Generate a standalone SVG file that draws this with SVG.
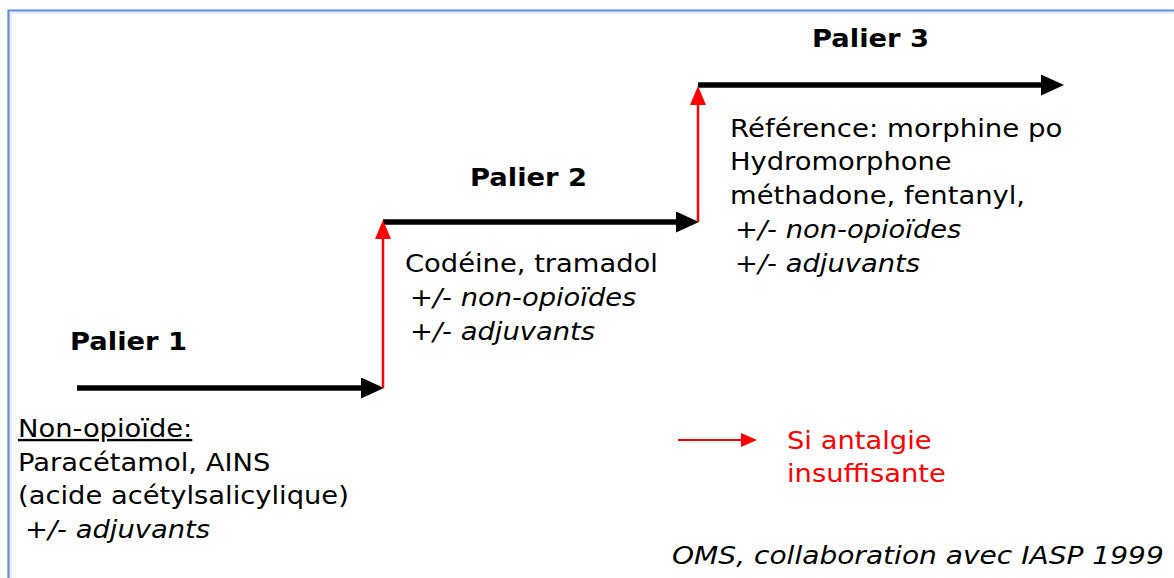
<svg xmlns="http://www.w3.org/2000/svg" width="1174" height="578" viewBox="0 0 1174 578">
  <style>
    text { font-family: "DejaVu Sans", Verdana, sans-serif; font-size: 24px; fill: #000; }
    .b { font-weight: bold; }
    .i { font-style: italic; }
    .red { fill: #FF0000; }
    .blk { stroke: #000; stroke-width: 5.5; fill: none; }
    .rl { stroke: #FF0000; stroke-width: 2.5; fill: none; }
  </style>
  <defs>
    <marker id="ahBlack" markerUnits="userSpaceOnUse" markerWidth="24" markerHeight="22" refX="10" refY="10.5" orient="auto">
      <path d="M0,0 L23,10.5 L0,21 z" fill="#000"/>
    </marker>
    <marker id="ahRed" markerUnits="userSpaceOnUse" markerWidth="20" markerHeight="18" refX="8" refY="8" orient="auto">
      <path d="M0,0 L19,8 L0,16 z" fill="#FF0000"/>
    </marker>
    <marker id="ahRedS" markerUnits="userSpaceOnUse" markerWidth="18" markerHeight="16" refX="6" refY="7" orient="auto">
      <path d="M0,0 L16,7 L0,14 z" fill="#FF0000"/>
    </marker>
  </defs>
  <rect width="1174" height="578" fill="#fff"/>
  <g id="frame">
    <path d="M8.5,578 V10.5 H1174" fill="none" stroke="#5B8DD9" stroke-width="2.2"/>
    <path d="M11,578 V13 H1174" fill="none" stroke="#C9DAF3" stroke-width="1"/>
  </g>

  <g id="connectors">
    <line class="blk" x1="77" y1="388" x2="371" y2="388" marker-end="url(#ahBlack)"/>
    <line class="blk" x1="383" y1="222" x2="686" y2="222" marker-end="url(#ahBlack)"/>
    <line class="blk" x1="698" y1="85" x2="1051" y2="85" marker-end="url(#ahBlack)"/>
    <line class="rl" x1="383" y1="388" x2="383" y2="231" marker-end="url(#ahRed)"/>
    <line class="rl" x1="698" y1="222" x2="698" y2="97" marker-end="url(#ahRed)"/>
  </g>

  <g id="palier1">
    <text class="b" transform="translate(70,350) scale(1.14,1)">Palier 1</text>
    <text transform="translate(18,437) scale(1.14,1)" text-decoration="underline">Non-opioïde:</text>
    <text transform="translate(18,471) scale(1.14,1)">Paracétamol, AINS</text>
    <text transform="translate(18,504) scale(1.14,1)">(acide acétylsalicylique)</text>
    <text class="i" transform="translate(25,538) scale(1.14,1)">+/- adjuvants</text>
  </g>

  <g id="palier2">
    <text class="b" transform="translate(470,186) scale(1.14,1)">Palier 2</text>
    <text transform="translate(405,272) scale(1.14,1)">Codéine, tramadol</text>
    <text class="i" transform="translate(410,306) scale(1.14,1)">+/- non-opioïdes</text>
    <text class="i" transform="translate(410,340) scale(1.14,1)">+/- adjuvants</text>
  </g>

  <g id="palier3">
    <text class="b" transform="translate(812,47) scale(1.14,1)">Palier 3</text>
    <text transform="translate(730,137) scale(1.15,1)">Référence: morphine po</text>
    <text transform="translate(730,170) scale(1.14,1)">Hydromorphone</text>
    <text transform="translate(730,204) scale(1.14,1)">méthadone, fentanyl,</text>
    <text class="i" transform="translate(735,238) scale(1.14,1)">+/- non-opioïdes</text>
    <text class="i" transform="translate(735,272) scale(1.14,1)">+/- adjuvants</text>
  </g>

  <g id="legend">
    <line stroke="#FF0000" stroke-width="2" x1="678" y1="440" x2="747" y2="440" marker-end="url(#ahRedS)"/>
    <text class="red" transform="translate(787,449) scale(1.14,1)">Si antalgie</text>
    <text class="red" transform="translate(787,482) scale(1.14,1)">insuffisante</text>
  </g>

  <g id="source">
    <text class="i" transform="translate(672,564) scale(1.17,1)">OMS, collaboration avec IASP 1999</text>
  </g>
</svg>
